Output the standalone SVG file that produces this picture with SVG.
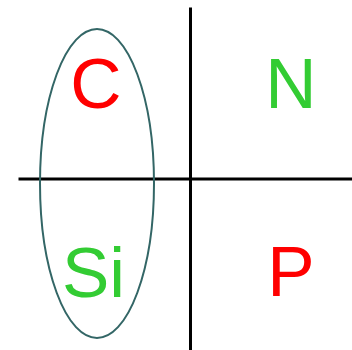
<svg xmlns="http://www.w3.org/2000/svg" width="352" height="350" viewBox="0 0 352 350">
<style>
.lbl{font-family:"Liberation Sans",Arial,sans-serif;font-size:71px;text-anchor:middle}
.red{fill:#FF0000}
.grn{fill:#33CC33}
.axis{stroke:#000;stroke-width:3;fill:none}
</style>
<rect width="352" height="350" fill="#fff"/>
<g id="axes">
<line class="axis" x1="190.5" y1="7.5" x2="190.5" y2="350"/>
<line class="axis" x1="18.5" y1="179" x2="352" y2="179"/>
</g>
<g id="ellipse">
<ellipse cx="97" cy="183.5" rx="57" ry="154.5" fill="none" stroke="#336666" stroke-width="2"/>
</g>
<g id="C"><text class="lbl red" x="96" y="108">C</text></g>
<g id="N"><text class="lbl grn" x="291" y="107.5">N</text></g>
<g id="Si"><text class="lbl grn" x="93.5" y="296.5">Si</text></g>
<g id="P"><text class="lbl red" x="291" y="296">P</text></g>
</svg>
